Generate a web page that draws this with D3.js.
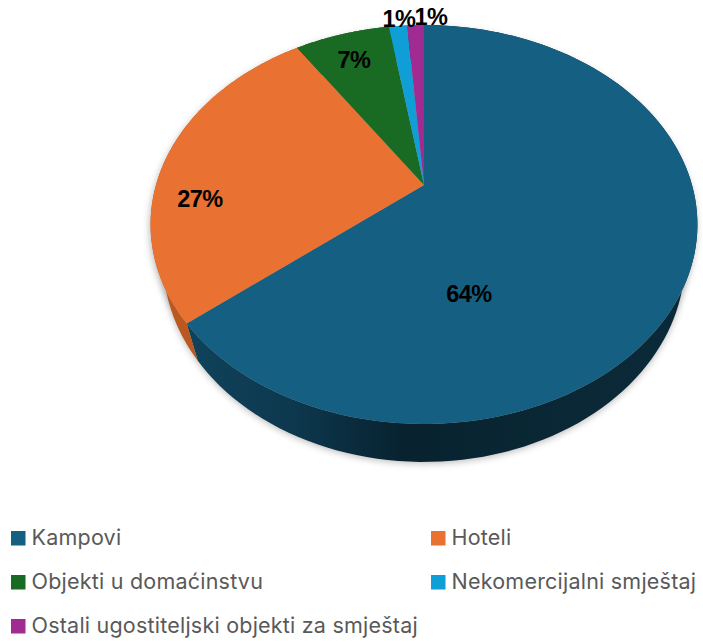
<!DOCTYPE html>
<html><head><meta charset="utf-8">
<script src="https://cdnjs.cloudflare.com/ajax/libs/d3/7.8.5/d3.min.js"></script>
<style>html,body{margin:0;padding:0;background:#fff;overflow:hidden}svg{display:block}</style>
</head><body><svg id="c" width="703" height="642"></svg>
<script>
const categories = ["Kampovi","Hoteli","Objekti u domaćinstvu","Nekomercijalni smještaj","Ostali ugostiteljski objekti za smještaj"];
const shares = [64.1,26.6,6.8,1.3,1.2];
const colors = ["#156082","#E97132","#196B24","#0F9ED5","#A02B93"];
const wallColors = ["url(#wallBlue)","#B9591F","#124d1a","#0b7299","#74206a"];

const svg=d3.select("#c");
// perspective disc -> screen
const apex={x:424,y:185}, k=0.198, b=-155, s=268;
const ellCy=224.5;
const f=0.954, g=1.01, cBottom=260.5;
function topRim(a){const X=Math.sin(a),Y=Math.cos(a),w=1+k*Y;return [apex.x+s*X/w,(apex.y+b*Y)/w];}
function bottomRim(a){const p=topRim(a);return [apex.x+(p[0]-apex.x)*f,cBottom+(p[1]-ellCy)*g];}

const pie=d3.pie().sort(null).value(d=>d);
const arcs=pie(shares);
const line=d3.line();
const samples=(d,fn)=>d3.range(0,121).map(i=>fn(d.startAngle+(d.endAngle-d.startAngle)*i/120));

const defs=svg.append("defs");
const gr=defs.append("linearGradient").attr("id","wallBlue").attr("gradientUnits","userSpaceOnUse")
 .attr("x1",190).attr("x2",700).attr("y1",0).attr("y2",0);
[[0,"#0f425b"],[0.2,"#0d384e"],[0.42,"#08222f"],[0.7,"#0a2735"],[1,"#0b2a39"]].forEach(([o,c])=>gr.append("stop").attr("offset",o).attr("stop-color",c));
defs.append("filter").attr("id","blur").attr("x","-10%").attr("y","-10%").attr("width","120%").attr("height","120%")
 .append("feGaussianBlur").attr("stdDeviation",3.5);

// shadow
const full={startAngle:0,endAngle:2*Math.PI};
svg.append("path").attr("d",line(samples(full,bottomRim))+"Z").attr("transform","translate(0,1.5)")
 .attr("fill","#8a8a8a").attr("opacity",0.6).attr("filter","url(#blur)");
svg.append("path").attr("d",line(samples(full,topRim))+"Z").attr("transform","translate(-1,3)")
 .attr("fill","#8a8a8a").attr("opacity",0.6).attr("filter","url(#blur)");

// walls
svg.append("g").selectAll("path").data(arcs).join("path")
 .attr("d",d=>line(samples(d,topRim).concat(samples(d,bottomRim).reverse()))+"Z")
 .attr("fill",(d,i)=>wallColors[i]);
// tops
svg.append("g").selectAll("path").data(arcs).join("path")
 .attr("d",d=>line([[apex.x,apex.y]].concat(samples(d,topRim)))+"Z")
 .attr("fill",(d,i)=>colors[i]);

// data labels
const labelAt=[[469,294],[200,199],[354,60],[399,19],[431,17]];
svg.append("g").selectAll("text").data(shares).join("text")
 .attr("x",(d,i)=>labelAt[i][0]).attr("y",(d,i)=>labelAt[i][1])
 .attr("text-anchor","middle").attr("dominant-baseline","central")
 .attr("font-family","'Liberation Sans',Arial,sans-serif").attr("font-weight",700).attr("font-size",23.5)
 .attr("letter-spacing",-0.5).attr("fill","#000").text(d=>d3.format(".0f")(d)+"%");

// legend
const legendAt=[[11,545],[431,545],[11,589],[431,589],[11,633]];
const lg=svg.append("g").selectAll("g").data(categories).join("g")
 .attr("transform",(d,i)=>`translate(${legendAt[i][0]},${legendAt[i][1]})`);
lg.append("rect").attr("x",0).attr("y",-14).attr("width",14.5).attr("height",14.5).attr("fill",(d,i)=>colors[i]);
lg.append("text").attr("x",20.5).attr("y",0)
 .attr("font-family","Inter,sans-serif").attr("font-size",21.5).attr("letter-spacing",0.22).attr("fill","#595959").text(d=>d);
</script></body></html>
